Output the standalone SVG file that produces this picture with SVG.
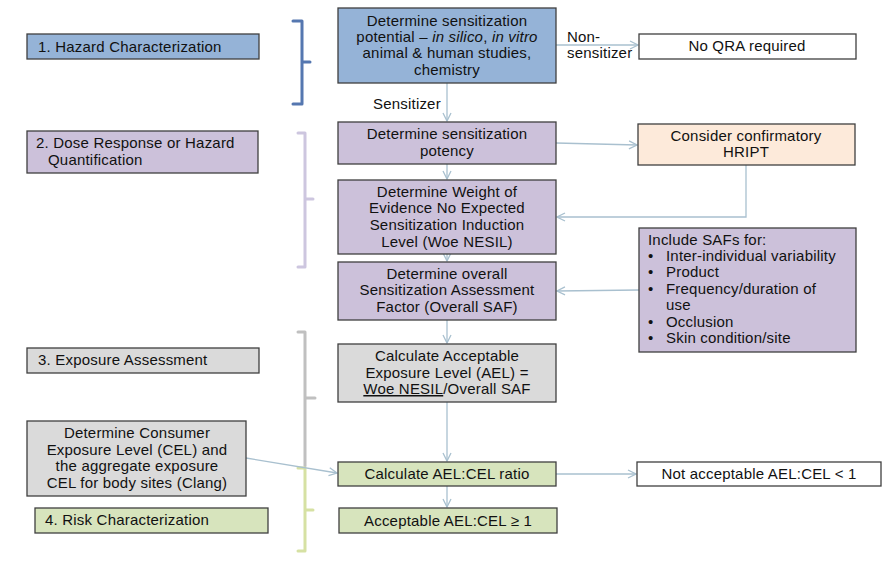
<svg xmlns="http://www.w3.org/2000/svg" width="887" height="566" viewBox="0 0 887 566">
<style>
text{font-family:"Liberation Sans",Arial,sans-serif;font-size:15px;letter-spacing:0.2px;fill:#111}
.c{text-anchor:middle}
.box{stroke:#3f3f3f;stroke-width:1.3}
.blue{fill:#95b3d7}
.purple{fill:#ccc1da}
.gray{fill:#dadada}
.green{fill:#d7e4bd}
.peach{fill:#fdeada}
.white{fill:#fff}
.conn{fill:none;stroke:#a9c0cf;stroke-width:1.3}
.br{fill:none;stroke-width:3;stroke-linejoin:round;stroke-linecap:round}
</style>
<defs>
<marker id="arr" viewBox="0 0 10 10" refX="9" refY="5" markerWidth="10" markerHeight="10" markerUnits="userSpaceOnUse" orient="auto">
<path d="M1,1 L9,5 L1,9" fill="none" stroke="#a9c0cf" stroke-width="1.3"/>
</marker>
</defs>
<rect width="887" height="566" fill="#fff"/>

<g id="brackets">
<path class="br" stroke="#5577b0" d="M293,21 H302 V104 H293 M302,62 H310"/>
<path class="br" stroke="#cdc6df" d="M298,133 H305 V267 H298 M305,199 H313"/>
<path class="br" stroke="#c0c0c0" d="M298,332 H305 V466 M305,398 H315"/>
<path class="br" stroke="#d6e1a3" d="M298,468 H305 V551 H298 M305,510 H313"/>
</g>

<g id="connectors">
<line class="conn" x1="447" y1="83" x2="447" y2="121" marker-end="url(#arr)"/>
<line class="conn" x1="556" y1="45" x2="638" y2="45" marker-end="url(#arr)"/>
<line class="conn" x1="556" y1="143" x2="637" y2="145" marker-end="url(#arr)"/>
<line class="conn" x1="447" y1="164" x2="447" y2="179" marker-end="url(#arr)"/>
<polyline class="conn" points="746,165 746,217 557,217" marker-end="url(#arr)"/>
<line class="conn" x1="447" y1="254" x2="447" y2="261" marker-end="url(#arr)"/>
<line class="conn" x1="639" y1="290" x2="557" y2="291" marker-end="url(#arr)"/>
<line class="conn" x1="447" y1="320" x2="447" y2="343" marker-end="url(#arr)"/>
<line class="conn" x1="447" y1="402" x2="447" y2="461" marker-end="url(#arr)"/>
<line class="conn" x1="246" y1="458" x2="337" y2="473" marker-end="url(#arr)"/>
<line class="conn" x1="556" y1="474" x2="636" y2="474" marker-end="url(#arr)"/>
<line class="conn" x1="447" y1="486" x2="447" y2="507" marker-end="url(#arr)"/>
<text x="373" y="109">Sensitizer</text>
<text x="567" y="42">Non-</text>
<text x="567" y="58">sensitizer</text>
</g>

<g id="stage1">
<rect class="box blue" x="27" y="34" width="232" height="25"/>
<text x="38" y="52">1. Hazard Characterization</text>
</g>
<g id="stage2">
<rect class="box purple" x="27" y="131" width="231" height="42"/>
<text x="36" y="148">2. Dose Response or Hazard</text>
<text x="48" y="165">Quantification</text>
</g>
<g id="stage3">
<rect class="box gray" x="27" y="348" width="232" height="25"/>
<text x="38" y="365">3. Exposure Assessment</text>
</g>
<g id="consumer">
<rect class="box gray" x="27" y="421" width="219" height="75"/>
<text class="c" x="137" y="438">Determine Consumer</text>
<text class="c" x="137" y="455">Exposure Level (CEL) and</text>
<text class="c" x="137" y="471">the aggregate exposure</text>
<text class="c" x="137" y="488">CEL for body sites (Clang)</text>
</g>
<g id="stage4">
<rect class="box green" x="35" y="508" width="233" height="25"/>
<text x="45" y="525">4. Risk Characterization</text>
</g>

<g id="potential">
<rect class="box blue" x="338" y="8" width="218" height="75"/>
<text class="c" x="447" y="26">Determine sensitization</text>
<text class="c" x="447" y="42">potential – <tspan font-style="italic">in silico</tspan>, <tspan font-style="italic">in vitro</tspan></text>
<text class="c" x="447" y="58">animal &amp; human studies,</text>
<text class="c" x="447" y="75">chemistry</text>
</g>
<g id="noqra">
<rect class="box white" x="639" y="34" width="217" height="25"/>
<text class="c" x="747" y="51">No QRA required</text>
</g>
<g id="potency">
<rect class="box purple" x="338" y="122" width="218" height="42"/>
<text class="c" x="447" y="139">Determine sensitization</text>
<text class="c" x="447" y="156">potency</text>
</g>
<g id="hript">
<rect class="box peach" x="638" y="124" width="217" height="41"/>
<text class="c" x="746" y="141">Consider confirmatory</text>
<text class="c" x="746" y="157">HRIPT</text>
</g>
<g id="nesil">
<rect class="box purple" x="338" y="180" width="218" height="74"/>
<text class="c" x="447" y="197">Determine Weight of</text>
<text class="c" x="447" y="213">Evidence No Expected</text>
<text class="c" x="447" y="230">Sensitization Induction</text>
<text class="c" x="447" y="247">Level (Woe NESIL)</text>
</g>
<g id="saf">
<rect class="box purple" x="338" y="262" width="218" height="58"/>
<text class="c" x="447" y="279">Determine overall</text>
<text class="c" x="447" y="295">Sensitization Assessment</text>
<text class="c" x="447" y="312">Factor (Overall SAF)</text>
</g>
<g id="safs">
<rect class="box purple" x="639" y="228" width="217" height="124"/>
<text x="648" y="245">Include SAFs for:</text>
<text x="648" y="261">•</text><text x="666" y="261">Inter-individual variability</text>
<text x="648" y="277">•</text><text x="666" y="277">Product</text>
<text x="648" y="294">•</text><text x="666" y="294">Frequency/duration of</text>
<text x="666" y="310">use</text>
<text x="648" y="327">•</text><text x="666" y="327">Occlusion</text>
<text x="648" y="343">•</text><text x="666" y="343">Skin condition/site</text>
</g>
<g id="ael">
<rect class="box gray" x="338" y="344" width="218" height="58"/>
<text class="c" x="447" y="361">Calculate Acceptable</text>
<text class="c" x="447" y="378">Exposure Level (AEL) =</text>
<text class="c" x="447" y="394"><tspan text-decoration="underline">Woe NESIL</tspan>/Overall SAF</text>
</g>
<g id="ratio">
<rect class="box green" x="338" y="462" width="218" height="24"/>
<text class="c" x="447" y="479">Calculate AEL:CEL ratio</text>
</g>
<g id="notacceptable">
<rect class="box white" x="637" y="462" width="244" height="24"/>
<text class="c" x="759" y="479">Not acceptable AEL:CEL &lt; 1</text>
</g>
<g id="acceptable">
<rect class="box green" x="339" y="508" width="218" height="25"/>
<text class="c" x="448" y="526">Acceptable AEL:CEL ≥ 1</text>
</g>
</svg>
